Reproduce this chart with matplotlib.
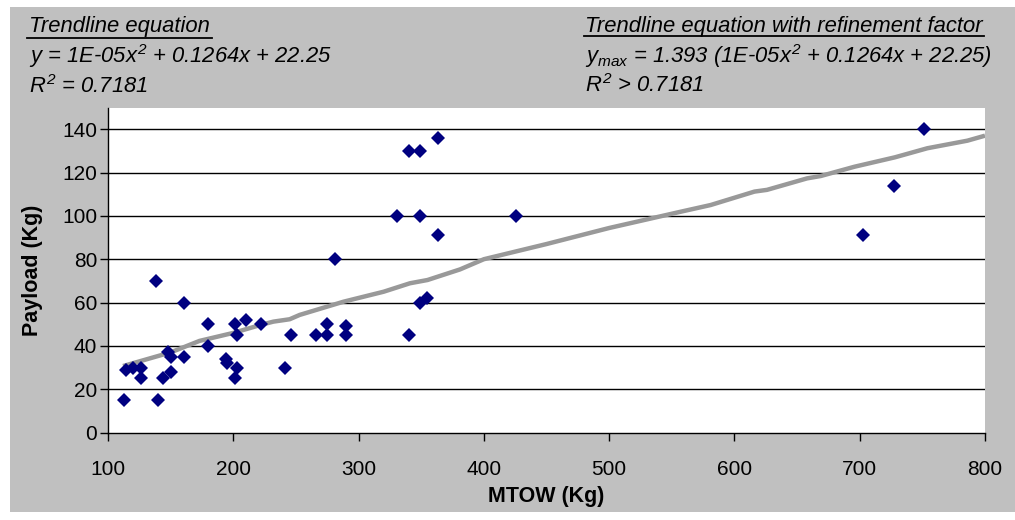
import matplotlib
matplotlib.use("Agg")
import matplotlib.pyplot as plt
from matplotlib.patches import Rectangle
from matplotlib.lines import Line2D

plt.rcParams['font.family'] = ['Liberation Sans', 'DejaVu Sans']
plt.rcParams['mathtext.fontset'] = 'custom'
plt.rcParams['mathtext.it'] = 'Liberation Sans:italic'
plt.rcParams['mathtext.rm'] = 'Liberation Sans:italic'

# ---- data ----
mtow = [113, 140, 114, 120, 126, 126, 144, 150, 148, 150, 161, 138, 161,
        180, 180, 201, 203, 210, 222, 194, 195, 203, 201, 241, 246, 266,
        275, 275, 290, 290, 281, 340, 349, 363, 331, 349, 363, 349, 355,
        340, 426, 703, 727, 751]
payload = [15, 15, 29, 30, 30, 25, 25, 28, 37, 35, 35, 70, 60,
           50, 40, 50, 45, 52, 50, 34, 32, 30, 25, 30, 45, 45,
           50, 45, 49, 45, 80, 130, 130, 136, 100, 100, 91, 60, 62,
           45, 100, 91, 114, 140]

trend_x = [112, 150, 173, 200, 222, 232, 245, 253, 288, 320, 341, 355, 381,
           400, 450, 500, 557, 581, 616, 626, 658, 669, 696, 728, 754, 786, 800]
trend_y = [30.7, 37, 42.3, 46, 49.7, 51.2, 52.3, 54.3, 60.4, 65, 68.9, 70.4,
           75.3, 80, 87, 94.4, 101.9, 105, 111.2, 112, 117.3, 118.4, 122.7,
           127, 131.2, 134.7, 137]

x_ticks = [100, 200, 300, 400, 500, 600, 700, 800]
y_ticks = [0, 20, 40, 60, 80, 100, 120, 140]

W, H = 1015, 520
fig = plt.figure(figsize=(W / 100, H / 100), dpi=100)
fig.patch.set_facecolor('white')
bg = Rectangle((10 / W, 1 - 512 / H), (W - 10) / W, (512 - 7) / H,
               transform=fig.transFigure, facecolor='#C0C0C0',
               edgecolor='none', zorder=-10)
fig.add_artist(bg)

l, r, t, b = 108, 985, 107.5, 432.6
ax = fig.add_axes([l / W, 1 - b / H, (r - l) / W, (b - t) / H])
ax.set_zorder(1)
ax.set_facecolor('white')
ax.set_xlim(100, 800)
ax.set_ylim(0, 150)
ax.set_xticks(x_ticks)
ax.set_yticks(y_ticks)
for s in ['top', 'right']:
    ax.spines[s].set_visible(False)
for s in ['left', 'bottom']:
    ax.spines[s].set_color('black')
    ax.spines[s].set_linewidth(1.0)
ax.tick_params(axis='both', direction='out', length=5.8, width=1, color='black',
               labelsize=15)
ax.tick_params(axis='x', pad=14)
ax.tick_params(axis='y', pad=2)
for yv in y_ticks[1:]:
    ax.axhline(yv, color='black', lw=1.0, zorder=1)

ax.plot(mtow, payload, linestyle='none', marker='D', markersize=7.2,
        color='#000080', markeredgewidth=0, zorder=3)
ax.plot(trend_x, trend_y, color='#999999', lw=3.2, zorder=2,
        solid_capstyle='butt')

ax.set_xlabel('MTOW (Kg)', fontsize=15.5, fontweight='bold', labelpad=5)
ax.set_ylabel('Payload (Kg)', fontsize=15.5, fontweight='bold', labelpad=14)

def fy(py):
    return 1 - py / H

tsize = 15.8
fig.text(29 / W, fy(32), 'Trendline equation', fontsize=tsize, style='italic', va='baseline')
fig.add_artist(Line2D([27 / W, 212 / W], [fy(38), fy(38)], color='black', lw=1.3))
fig.text(29 / W, fy(63), r'y = 1E-05$x^{2}$ + 0.1264x + 22.25', fontsize=tsize, style='italic', va='baseline')
fig.text(29 / W, fy(93), r'$R^{2}$ = 0.7181', fontsize=tsize, style='italic', va='baseline')

fig.text(585 / W, fy(32), 'Trendline equation with refinement factor', fontsize=tsize,
         style='italic', va='baseline')
fig.add_artist(Line2D([584 / W, 984 / W], [fy(36), fy(36)], color='black', lw=1.3))
fig.text(585 / W, fy(63), r'$y_{max}$ = 1.393 (1E-05$x^{2}$ + 0.1264x + 22.25)', fontsize=tsize,
         style='italic', va='baseline')
fig.text(585 / W, fy(92), r'$R^{2}$ > 0.7181', fontsize=tsize, style='italic', va='baseline')

fig.savefig('out.png', dpi=100, facecolor=fig.get_facecolor())
